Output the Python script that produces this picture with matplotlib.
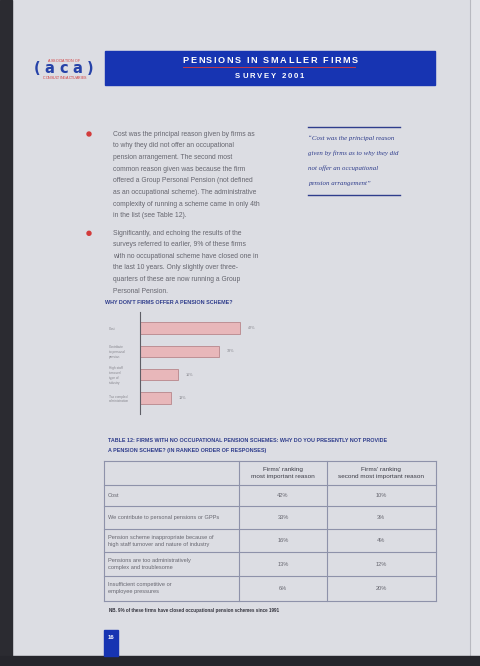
import matplotlib
matplotlib.use("Agg")
import matplotlib.pyplot as plt
from matplotlib import font_manager as fm
from matplotlib.patches import Rectangle, Circle

# ---------------- data ----------------
header_title = "PENSIONS IN SMALLER FIRMS"
header_sub = "SURVEY 2001"
logo_top = "ASSOCIATION OF"
logo_mark = "(aca)"
logo_bottom = "CONSULTING ACTUARIES"

para1 = ["Cost was the principal reason given by firms as",
         "to why they did not offer an occupational",
         "pension arrangement. The second most",
         "common reason given was because the firm",
         "offered a Group Personal Pension (not defined",
         "as an occupational scheme). The administrative",
         "complexity of running a scheme came in only 4th",
         "in the list (see Table 12)."]
para2 = ["Significantly, and echoing the results of the",
         "surveys referred to earlier, 9% of these firms",
         "with no occupational scheme have closed one in",
         "the last 10 years. Only slightly over three-",
         "quarters of these are now running a Group",
         "Personal Pension."]
quote_lines = ["\u201cCost was the principal reason",
               "given by firms as to why they did",
               "not offer an occupational",
               "pension arrangement\u201d"]

chart_title = "WHY DON'T FIRMS OFFER A PENSION SCHEME?"
chart_categories = ["Cost", "Contribute\nto personal\npension",
                    "High staff\nturnover/\ntype of\nindustry",
                    "Too complex/\nadministration"]
chart_values = [42, 33, 16, 13]

table_title = ["TABLE 12: FIRMS WITH NO OCCUPATIONAL PENSION SCHEMES: WHY DO YOU PRESENTLY NOT PROVIDE",
               "A PENSION SCHEME? (IN RANKED ORDER OF RESPONSES)"]
table_headers = ["Firms' ranking\nmost important reason",
                 "Firms' ranking\nsecond most important reason"]
table_reasons = ["Cost",
                 "We contribute to personal pensions or GPPs",
                 "Pension scheme inappropriate because of\nhigh staff turnover and nature of industry",
                 "Pensions are too administratively\ncomplex and troublesome",
                 "Insufficient competitive or\nemployee pressures"]
most_important = [42, 33, 16, 13, 6]
second_important = [10, 3, 4, 12, 20]
table_note = "NB. 9% of these firms have closed occupational pension schemes since 1991"
page_number = "16"

# ---------------- style ----------------
PAGE = "#dcdde3"
BLUE = "#1734b2"
NAVY = "#2f3d8c"
GREY = "#66666f"
RED = "#d23b3b"

names = {f.name for f in fm.fontManager.ttflist}
SANS = "Liberation Sans" if "Liberation Sans" in names else "DejaVu Sans"
NARROW = "Liberation Sans Narrow" if "Liberation Sans Narrow" in names else SANS
SERIF = "Liberation Serif" if "Liberation Serif" in names else "DejaVu Serif"

W, H = 480, 666
fig = plt.figure(figsize=(W / 100, H / 100), dpi=100, facecolor=PAGE)
bg = fig.add_axes([0, 0, 1, 1])
bg.set_xlim(0, W)
bg.set_ylim(H, 0)
bg.axis("off")
renderer = fig.canvas.get_renderer()


def fit(t, target):
    w = t.get_window_extent(renderer).width
    t.set_fontsize(t.get_fontsize() * target / w)
    return t.get_fontsize()


def spaced(xc, y, s, size, target, **kw):
    widths = []
    for ch in s:
        if ch == " ":
            widths.append(size / 72 * 100 * 0.28)
        else:
            t = bg.text(0, 0, ch, fontsize=size, **kw)
            widths.append(t.get_window_extent(renderer).width)
            t.remove()
    track = (target - sum(widths)) / (len(s) - 1)
    x = xc - target / 2
    for ch, w in zip(s, widths):
        if ch != " ":
            bg.text(x, y, ch, fontsize=size, ha="left", va="center", **kw)
        x += w + track


# page edges
bg.add_patch(Rectangle((0, 0), 12, H, color="#2b2b31", zorder=5))
bg.add_patch(Rectangle((0, 656), W, 10, color="#26262c", zorder=5))
bg.add_patch(Rectangle((470, 0), 10, 656, color="#e3e4e9", zorder=1))
bg.plot([470, 470], [0, 656], color="#b8b9c0", lw=0.8, zorder=2)

# logo
spaced(64, 60.5, logo_top, 2.6, 32, color=RED, family=SANS)
spaced(63.5, 68.8, logo_mark, 10.5, 60, color="#2642a8", family="DejaVu Sans",
       fontweight="bold")
spaced(64.5, 77.8, logo_bottom, 2.6, 43, color=RED, family=SANS)

# header band
bg.add_patch(Rectangle((104.7, 50.7), 330.3, 34.6, color=BLUE, zorder=2))
spaced(270, 60.8, header_title, 6.6, 175, color="white", family=SANS,
       fontweight="bold", zorder=3)
bg.plot([182.7, 355], [67.3, 67.3], color="#c23a4a", lw=0.7, zorder=3)
spaced(269.7, 76.7, header_sub, 5.6, 69, color="white", family=SANS,
       fontweight="bold", zorder=3)

# body paragraphs
t0 = bg.text(113, 134, para1[0], family=SANS, color=GREY, va="center", fontsize=5)
fs = fit(t0, 144)
for i, line in enumerate(para1[1:], start=1):
    bg.text(113, 134 + 11.68 * i, line, family=SANS, color=GREY, va="center", fontsize=fs)
for i, line in enumerate(para2):
    bg.text(113, 233.3 + 11.55 * i, line, family=SANS, color=GREY, va="center", fontsize=fs)
for yb in (134, 233.3):
    bg.add_patch(Circle((89, yb), 2.0, color=RED))

# quote
bg.plot([308, 400], [126.7, 126.7], color=NAVY, lw=1.0)
bg.plot([308, 400], [195, 195], color=NAVY, lw=1.0)
tq = bg.text(308, 153.3, quote_lines[1], family=SERIF, style="italic", color=NAVY,
             va="center", fontsize=5)
qfs = fit(tq, 91)
for i, line in enumerate(quote_lines):
    if i == 1:
        continue
    bg.text(308, 138.3 + 15 * i, line, family=SERIF, style="italic", color=NAVY,
            va="center", fontsize=qfs)

# chart title
t = bg.text(105, 302.3, chart_title, family=SANS, fontweight="bold", color=NAVY,
            va="center", fontsize=4)
fit(t, 127)

# ---------------- bar chart ----------------
px_per_unit = 100 / 42.0
ax = fig.add_axes([140 / W, 1 - 414 / H, 200 / W, 102 / H])
ax.patch.set_alpha(0)
ypos = list(range(len(chart_values)))
ax.barh(ypos, chart_values, height=0.49, color="#e8b7ba", edgecolor="#b7878c", lw=0.6)
ax.set_xlim(0, 200 / px_per_unit)
step = 23.35
ax.set_ylim((414 - 328) / step, (312 - 328) / step)
for s in ("top", "right", "bottom"):
    ax.spines[s].set_visible(False)
ax.spines["left"].set_color("#5e5e66")
ax.spines["left"].set_linewidth(0.8)
ax.set_xticks([])
ax.set_yticks(ypos)
ax.set_yticklabels(chart_categories, family=SANS, fontsize=2.3, color="#85858c",
                   linespacing=1.25)
ax.tick_params(axis="y", length=0, pad=22.3)
for lab in ax.get_yticklabels():
    lab.set_horizontalalignment("left")
for y, v in zip(ypos, chart_values):
    ax.text(v + 8 / px_per_unit, y, f"{v}%", va="center", ha="left", family=SANS,
            fontsize=2.7, color="#85858c")

# ---------------- table ----------------
t = bg.text(108.3, 440.7, table_title[0], family=SANS, fontweight="bold", color=NAVY,
            va="center", fontsize=4)
tfs = fit(t, 276)
bg.text(108.3, 450.7, table_title[1], family=SANS, fontweight="bold", color=NAVY,
        va="center", fontsize=tfs)

col_x = [104.3, 239.3, 326.7, 436]
row_y = [460.7, 484.5, 505.7, 529, 552.3, 575.7, 600.5]
LINE = "#8e92aa"
for x in col_x:
    bg.plot([x, x], [row_y[0], row_y[-1]], color=LINE, lw=0.8)
for y in row_y:
    bg.plot([col_x[0], col_x[-1]], [y, y], color=LINE, lw=0.8)

th = bg.text((col_x[2] + col_x[3]) / 2, 473, table_headers[1], family=NARROW,
             color="#3c3c46", ha="center", va="center", fontsize=4, linespacing=1.45)
hfs = fit(th, 85)
bg.text((col_x[1] + col_x[2]) / 2, 473, table_headers[0], family=NARROW,
        color="#3c3c46", ha="center", va="center", fontsize=hfs, linespacing=1.45)

tr = bg.text(108, 0, table_reasons[1], family=NARROW, color=GREY, va="center", fontsize=4)
rfs = fit(tr, 111)
tr.remove()
for i, (reason, a, b) in enumerate(zip(table_reasons, most_important, second_important)):
    yc = (row_y[i + 1] + row_y[i + 2]) / 2
    bg.text(108, yc, reason, family=NARROW, color=GREY, va="center", ha="left",
            fontsize=rfs, linespacing=1.5)
    bg.text((col_x[1] + col_x[2]) / 2, yc, f"{a}%", family=NARROW, color=GREY,
            va="center", ha="center", fontsize=rfs)
    bg.text((col_x[2] + col_x[3]) / 2, yc, f"{b}%", family=NARROW, color=GREY,
            va="center", ha="center", fontsize=rfs)

t = bg.text(109, 610.7, table_note, family=NARROW, fontweight="bold", color="#33333d",
            va="center", fontsize=4)
fit(t, 168)

# page number
bg.add_patch(Rectangle((104, 630), 14, 26, color=BLUE, zorder=6))
bg.text(111, 637.5, page_number, color="white", family=SANS, fontweight="bold",
        ha="center", va="center", fontsize=4.3, zorder=7)

fig.savefig("out.png", dpi=100, facecolor=PAGE)
